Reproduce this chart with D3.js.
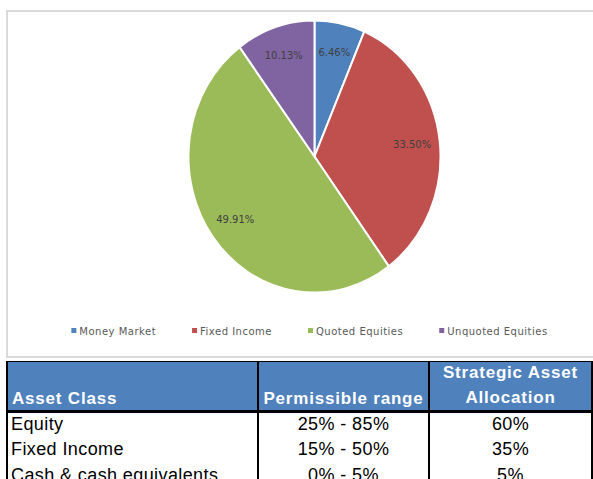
<!DOCTYPE html>
<meta charset="utf-8">
<script src="https://d3js.org/d3.v7.min.js"></script>
<style>
  body { margin: 0; background: #fff; }
  svg { display: block; }
</style>
<div id="chart"></div>
<script>
// pie data
var segments = ["Money Market", "Fixed Income", "Quoted Equities", "Unquoted Equities"]
var shares = [6.46, 33.50, 49.91, 10.13]
var colors = ["#4F81BD", "#C0504D", "#9BBB59", "#8064A2"]

// table data
var headers = ["Asset Class", "Permissible range", "Strategic Asset\nAllocation"]
var assetClasses = ["Equity", "Fixed Income", "Cash & cash equivalents"]
var ranges = ["25% - 85%", "15% - 50%", "0% - 5%"]
var allocations = ["60%", "35%", "5%"]

var W = 593, H = 479
var svg = d3.select("#chart").append("svg").attr("width", W).attr("height", H)

// chart frame
svg.append("rect")
  .attr("x", 7).attr("y", 11).attr("width", 700).attr("height", 346)
  .attr("fill", "#fff").attr("stroke", "#d9d9d9").attr("stroke-width", 2)

// pie (slightly stretched vertically like the source)
var cx = 314.5, cy = 156.5, ry = 136, rx = 126
var sx = rx / ry
var pie = d3.pie().sort(null).value(d => d)
var arcs = pie(shares)
var arc = d3.arc().innerRadius(0).outerRadius(ry)
var labelArc = d3.arc().innerRadius(ry * 0.78).outerRadius(ry * 0.78)

var g = svg.append("g").attr("transform", `translate(${cx},${cy}) scale(${sx},1)`)
g.selectAll("path")
  .data(arcs)
  .join("path")
    .attr("d", arc)
    .attr("fill", (d, i) => colors[i])
    .attr("stroke", "#fff")
    .attr("stroke-width", 2)
    .attr("vector-effect", "non-scaling-stroke")

svg.append("g").selectAll("text")
  .data(arcs)
  .join("text")
    .attr("x", d => cx + labelArc.centroid(d)[0] * sx)
    .attr("y", d => cy + labelArc.centroid(d)[1])
    .attr("dy", "0.35em")
    .attr("text-anchor", "middle")
    .style("font-family", "DejaVu Sans, sans-serif")
    .style("font-size", "10px")
    .style("fill", "#404040")
    .text(d => d.data.toFixed(2) + "%")

// legend
var legend = svg.append("g")
var items = legend.selectAll("g")
  .data(segments)
  .join("g")
items.append("rect")
  .attr("width", 5).attr("height", 5).attr("y", -3)
  .attr("fill", (d, i) => colors[i])
items.append("text")
  .attr("x", 8).attr("dy", "0.35em")
  .style("font-family", "DejaVu Sans, sans-serif")
  .style("font-size", "10px")
  .style("letter-spacing", "0.5px")
  .style("fill", "#595959")
  .text(d => d)
var pos = 0
items.each(function() {
  var w = d3.select(this).select("text").node().getComputedTextLength() + 8
  d3.select(this).attr("transform", `translate(${pos},0)`)
  pos += w + 36
})
pos -= 36
legend.attr("transform", `translate(${cx - 5 - pos / 2},331)`)

// table
var colEdges = [7, 258, 429, 592]
var headTop = 361, headBottom = 411.5
var rowY = d3.scaleLinear().domain([0, 1]).range([429.5, 455])
var font = "Liberation Sans, Arial, sans-serif"

var tbl = svg.append("g")
tbl.append("rect")
  .attr("x", colEdges[0]).attr("y", headTop)
  .attr("width", colEdges[3] - colEdges[0]).attr("height", headBottom - headTop)
  .attr("fill", "#4F81BD")

// header text
var head = tbl.append("g")
  .style("font-family", font).style("font-size", "17px").style("font-weight", "bold")
  .style("letter-spacing", "0.8px").style("fill", "#fff")
head.append("text")
  .attr("x", 12).attr("y", 404).text(headers[0])
head.append("text")
  .attr("x", (colEdges[1] + colEdges[2]) / 2).attr("y", 403.5)
  .attr("text-anchor", "middle").text(headers[1])
head.append("g").selectAll("text")
  .data(headers[2].split("\n"))
  .join("text")
    .attr("x", (colEdges[2] + colEdges[3]) / 2)
    .attr("y", (d, i) => 378 + i * 25)
    .attr("text-anchor", "middle").text(d => d)

// body rows
var body = tbl.append("g")
  .style("font-family", font).style("font-size", "18px")
  .style("letter-spacing", "0.4px").style("fill", "#000")
body.selectAll(".c0").data(assetClasses).join("text").attr("class", "c0")
  .attr("x", 11).attr("y", (d, i) => rowY(i)).text(d => d)
body.selectAll(".c1").data(ranges).join("text").attr("class", "c1")
  .attr("x", (colEdges[1] + colEdges[2]) / 2).attr("y", (d, i) => rowY(i))
  .attr("text-anchor", "middle").text(d => d)
body.selectAll(".c2").data(allocations).join("text").attr("class", "c2")
  .attr("x", (colEdges[2] + colEdges[3]) / 2).attr("y", (d, i) => rowY(i))
  .attr("text-anchor", "middle").text(d => d)

// table lines
tbl.append("line")
  .attr("x1", colEdges[0]).attr("x2", colEdges[3])
  .attr("y1", headTop + 0.5).attr("y2", headTop + 0.5)
  .attr("stroke", "#000").attr("stroke-width", 1)
tbl.append("line")
  .attr("x1", colEdges[0] - 1).attr("x2", colEdges[3] + 1)
  .attr("y1", headBottom).attr("y2", headBottom)
  .attr("stroke", "#000").attr("stroke-width", 3)
tbl.selectAll(".vline")
  .data(colEdges)
  .join("line").attr("class", "vline")
    .attr("x1", d => d).attr("x2", d => d)
    .attr("y1", headTop).attr("y2", H)
    .attr("stroke", "#000").attr("stroke-width", 2)
</script>
